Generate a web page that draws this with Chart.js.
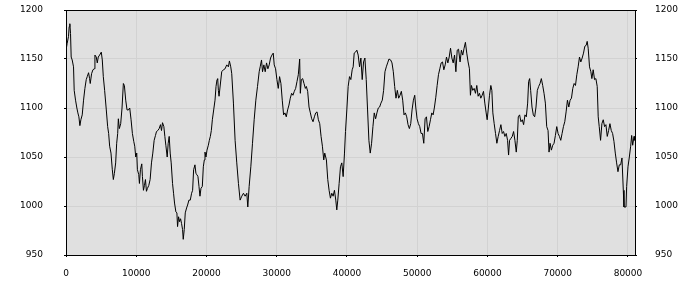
<!DOCTYPE html>
<html>
<head>
<meta charset="utf-8">
<script src="https://cdn.jsdelivr.net/npm/chart.js@4.4.1/dist/chart.umd.min.js"></script>
<style>
  html, body { margin: 0; padding: 0; background: #fff; }
  #wrap { width: 700px; height: 300px; }
</style>
</head>
<body>
<div id="wrap"><canvas id="lineChart" width="700" height="300"></canvas></div>
<script>
// values
const xs = [
  0, 167, 357, 452, 548, 643, 738, 881, 1071, 1167, 1357, 1548, 1690, 1833, 1976, 2119, 2310, 2500, 2690, 2881,
  3024, 3214, 3357, 3452, 3643, 3833, 4024, 4119, 4310, 4452, 4595, 4786, 5024, 5167, 5310, 5500, 5738, 5929, 6071, 6214,
  6405, 6595, 6738, 6881, 7071, 7214, 7357, 7452, 7595, 7786, 7976, 8167, 8310, 8500, 8690, 8881, 9071, 9262, 9452, 9643,
  9786, 9929, 10071, 10167, 10357, 10452, 10595, 10786, 10881, 11024, 11167, 11310, 11452, 11595, 11786, 11976, 12167, 12357, 12548, 12738,
  12881, 13071, 13262, 13452, 13595, 13738, 13929, 14071, 14214, 14405, 14548, 14690, 14833, 14976, 15167, 15310, 15452, 15643, 15786, 15881,
  16024, 16167, 16310, 16452, 16595, 16690, 16833, 16976, 17167, 17310, 17500, 17690, 17881, 18024, 18167, 18357, 18500, 18643, 18786, 18929,
  19071, 19214, 19405, 19548, 19690, 19786, 19929, 20071, 20262, 20405, 20548, 20690, 20833, 21024, 21214, 21357, 21500, 21595, 21690, 21786,
  22167, 22405, 22643, 22881, 23119, 23262, 23452, 23595, 23834, 24072, 24310, 24548, 24786, 25024, 25262, 25501, 25739, 25881, 26072, 26310,
  26548, 26786, 27024, 27262, 27501, 27643, 27834, 27977, 28167, 28358, 28548, 28739, 28929, 29120, 29310, 29501, 29643, 29834, 30024, 30215,
  30405, 30596, 30786, 30977, 31167, 31358, 31548, 31739, 31929, 32120, 32310, 32501, 32691, 32882, 33072, 33263, 33358, 33501, 33691, 33882,
  34072, 34215, 34405, 34596, 34786, 34977, 35167, 35358, 35548, 35739, 35929, 36120, 36310, 36501, 36691, 36834, 37072, 37263, 37453, 37644,
  37834, 38025, 38215, 38406, 38548, 38691, 38882, 39072, 39263, 39453, 39644, 39787, 39977, 40167, 40358, 40548, 40739, 40882, 41025, 41215,
  41406, 41596, 41787, 41977, 42168, 42358, 42549, 42739, 42930, 43120, 43311, 43501, 43692, 43882, 44073, 44263, 44454, 44644, 44835, 45025,
  45215, 45406, 45596, 45787, 45977, 46215, 46406, 46596, 46787, 46977, 47168, 47358, 47549, 47739, 47930, 48120, 48311, 48501, 48692, 48882,
  49073, 49263, 49454, 49644, 49787, 49977, 50168, 50358, 50549, 50739, 50930, 51120, 51311, 51501, 51692, 51882, 52073, 52263, 52454, 52644,
  52835, 53025, 53216, 53406, 53597, 53787, 53978, 54168, 54359, 54549, 54740, 54930, 55120, 55311, 55501, 55692, 55882, 56097, 56288, 56478,
  56669, 56859, 57050, 57240, 57431, 57573, 57716, 57907, 58097, 58288, 58478, 58669, 58859, 59050, 59240, 59431, 59621, 59812, 59954, 60097,
  60288, 60478, 60621, 60764, 60954, 61145, 61335, 61526, 61716, 61907, 62097, 62288, 62478, 62669, 62859, 63002, 63145, 63335, 63526, 63716,
  63907, 64097, 64240, 64383, 64573, 64764, 64955, 65145, 65336, 65526, 65717, 65859, 66002, 66145, 66336, 66526, 66717, 66907, 67098, 67288,
  67479, 67669, 67860, 68050, 68241, 68431, 68622, 68764, 68907, 69097, 69288, 69478, 69669, 69859, 70050, 70240, 70431, 70621, 70812, 71002,
  71193, 71383, 71574, 71764, 71955, 72145, 72336, 72526, 72717, 72907, 73098, 73288, 73479, 73669, 73860, 74050, 74193, 74336, 74526, 74717,
  74859, 75050, 75240, 75431, 75621, 75764, 75907, 76098, 76288, 76479, 76669, 76860, 77050, 77241, 77431, 77622, 77812, 78002, 78193, 78383,
  78574, 78764, 78955, 79145, 79336, 79431, 79717, 79812, 80002, 80193, 80383, 80526, 80669, 80860, 80955
];
const ys = [
  1159, 1166, 1173, 1183, 1186, 1176, 1152, 1149, 1142, 1118, 1108, 1100, 1095, 1091, 1082, 1088, 1093, 1108, 1120, 1129,
  1132, 1136, 1130, 1125, 1135, 1139, 1140, 1154, 1152, 1146, 1152, 1154, 1157, 1149, 1132, 1118, 1098, 1081, 1074, 1061,
  1054, 1037, 1027, 1033, 1044, 1064, 1074, 1089, 1079, 1084, 1100, 1125, 1123, 1108, 1098, 1098, 1100, 1088, 1074, 1066,
  1061, 1050, 1054, 1037, 1032, 1023, 1037, 1043, 1030, 1016, 1021, 1027, 1015, 1018, 1021, 1027, 1044, 1054, 1067, 1072,
  1076, 1077, 1079, 1083, 1077, 1085, 1081, 1071, 1062, 1050, 1064, 1071, 1054, 1044, 1023, 1013, 1003, 994, 993, 979,
  989, 984, 987, 982, 976, 966, 976, 993, 998, 1001, 1006, 1006, 1013, 1016, 1037, 1042, 1033, 1032, 1030, 1020,
  1010, 1018, 1020, 1040, 1047, 1055, 1050, 1057, 1062, 1067, 1071, 1077, 1088, 1098, 1108, 1122, 1129, 1130, 1118, 1112,
  1137, 1139, 1140, 1144, 1142, 1148, 1142, 1135, 1105, 1067, 1044, 1023, 1006, 1010, 1013, 1010, 1013, 999, 1020, 1040,
  1064, 1088, 1108, 1122, 1137, 1142, 1149, 1137, 1144, 1137, 1146, 1140, 1144, 1151, 1154, 1156, 1144, 1140, 1129, 1120,
  1132, 1125, 1108, 1093, 1095, 1091, 1098, 1103, 1110, 1115, 1113, 1117, 1120, 1127, 1134, 1150, 1115, 1129, 1130, 1125,
  1120, 1122, 1117, 1101, 1095, 1089, 1086, 1091, 1095, 1096, 1088, 1084, 1071, 1061, 1047, 1054, 1047, 1027, 1016, 1008,
  1013, 1010, 1016, 1006, 996, 1006, 1023, 1040, 1044, 1030, 1054, 1076, 1098, 1122, 1132, 1129, 1139, 1142, 1156, 1157,
  1159, 1154, 1142, 1151, 1129, 1147, 1151, 1129, 1098, 1067, 1054, 1064, 1081, 1095, 1089, 1095, 1100, 1101, 1105, 1108,
  1118, 1137, 1142, 1146, 1150, 1149, 1146, 1137, 1122, 1110, 1118, 1110, 1113, 1117, 1108, 1093, 1095, 1091, 1083, 1079,
  1084, 1098, 1108, 1113, 1101, 1089, 1084, 1081, 1074, 1074, 1064, 1089, 1091, 1076, 1081, 1088, 1095, 1093, 1101, 1111,
  1123, 1134, 1140, 1146, 1147, 1139, 1144, 1152, 1146, 1152, 1161, 1151, 1146, 1154, 1137, 1159, 1160, 1147, 1159, 1154,
  1161, 1167, 1156, 1147, 1140, 1113, 1123, 1118, 1120, 1115, 1123, 1112, 1115, 1110, 1113, 1117, 1105, 1095, 1088, 1098,
  1113, 1123, 1118, 1095, 1084, 1074, 1064, 1071, 1077, 1083, 1074, 1076, 1071, 1074, 1067, 1052, 1067, 1069, 1071, 1076,
  1067, 1055, 1067, 1091, 1093, 1086, 1088, 1083, 1093, 1091, 1105, 1127, 1130, 1118, 1101, 1093, 1091, 1101, 1118, 1122,
  1125, 1130, 1123, 1115, 1105, 1081, 1077, 1055, 1064, 1057, 1062, 1064, 1072, 1081, 1074, 1071, 1067, 1074, 1081, 1086,
  1096, 1108, 1101, 1108, 1110, 1120, 1125, 1123, 1134, 1142, 1152, 1147, 1151, 1156, 1163, 1164, 1168, 1161, 1142, 1137,
  1130, 1139, 1129, 1130, 1122, 1091, 1081, 1067, 1084, 1088, 1081, 1083, 1071, 1077, 1084, 1077, 1074, 1066, 1054, 1044,
  1035, 1042, 1042, 1049, 1016, 999, 999, 1020, 1040, 1050, 1061, 1072, 1062, 1071, 1067
];
const yTicks = [950, 1000, 1050, 1100, 1150, 1200];
const xTicks = [0, 10000, 20000, 30000, 40000, 50000, 60000, 70000, 80000];

const labelFont = { family: 'DejaVu Sans', size: 9 };

// grey plot background and dark frame
const plotFrame = {
  id: 'plotFrame',
  beforeDraw(chart) {
    const a = chart.chartArea, ctx = chart.ctx;
    ctx.save();
    ctx.fillStyle = '#e0e0e0';
    ctx.fillRect(a.left, a.top, a.right - a.left, a.bottom - a.top);
    ctx.restore();
  },
  afterDraw(chart) {
    const a = chart.chartArea, ctx = chart.ctx;
    ctx.save();
    ctx.strokeStyle = '#000';
    ctx.lineWidth = 1;
    ctx.strokeRect(Math.round(a.left) + 0.5, Math.round(a.top) + 0.5,
      Math.round(a.right - a.left), Math.round(a.bottom - a.top));
    ctx.restore();
  }
};

// fixed axis sizes, and no extra padding from the tick labels
const fixY = w => s => { s.width = w; s.paddingTop = 0; s.paddingBottom = 0; };

const ctx = document.getElementById('lineChart').getContext('2d');
const lineChart = new Chart(ctx, {
  type: 'line',
  data: {
    datasets: [{
      data: xs.map((x, i) => ({ x: x, y: ys[i] })),
      borderColor: '#000',
      borderWidth: 1,
      pointRadius: 0,
      fill: false,
      tension: 0
    }]
  },
  options: {
    responsive: false,
    animation: false,
    layout: { padding: { top: 10, left: 0, right: 0, bottom: 0 } },
    plugins: { legend: { display: false }, tooltip: { enabled: false } },
    scales: {
      x: {
        type: 'linear',
        min: 0,
        max: 81000,
        afterBuildTicks: axis => { axis.ticks = xTicks.map(v => ({ value: v })); },
        afterFit: s => { s.height = 45; s.paddingLeft = 0; s.paddingRight = 0; },
        ticks: { color: '#000', font: labelFont, padding: 11, maxRotation: 0, autoSkip: false, callback: v => String(v) },
        grid: { color: '#d2d2d2', tickColor: '#000', tickLength: 2 },
        border: { color: '#000' }
      },
      y: {
        position: 'left',
        min: 950,
        max: 1200,
        afterBuildTicks: axis => { axis.ticks = yTicks.map(v => ({ value: v })); },
        afterFit: fixY(66),
        ticks: { color: '#000', font: labelFont, padding: 21, callback: v => String(v) },
        grid: { color: '#d2d2d2', tickColor: '#000', tickLength: 2 },
        border: { color: '#000' }
      },
      y2: {
        position: 'right',
        min: 950,
        max: 1200,
        afterBuildTicks: axis => { axis.ticks = yTicks.map(v => ({ value: v })); },
        afterFit: fixY(65),
        ticks: { color: '#000', font: labelFont, padding: 18, callback: v => String(v) },
        grid: { drawOnChartArea: false, tickColor: '#000', tickLength: 2 },
        border: { color: '#000' }
      }
    }
  },
  plugins: [plotFrame]
});
</script>
</body>
</html>
